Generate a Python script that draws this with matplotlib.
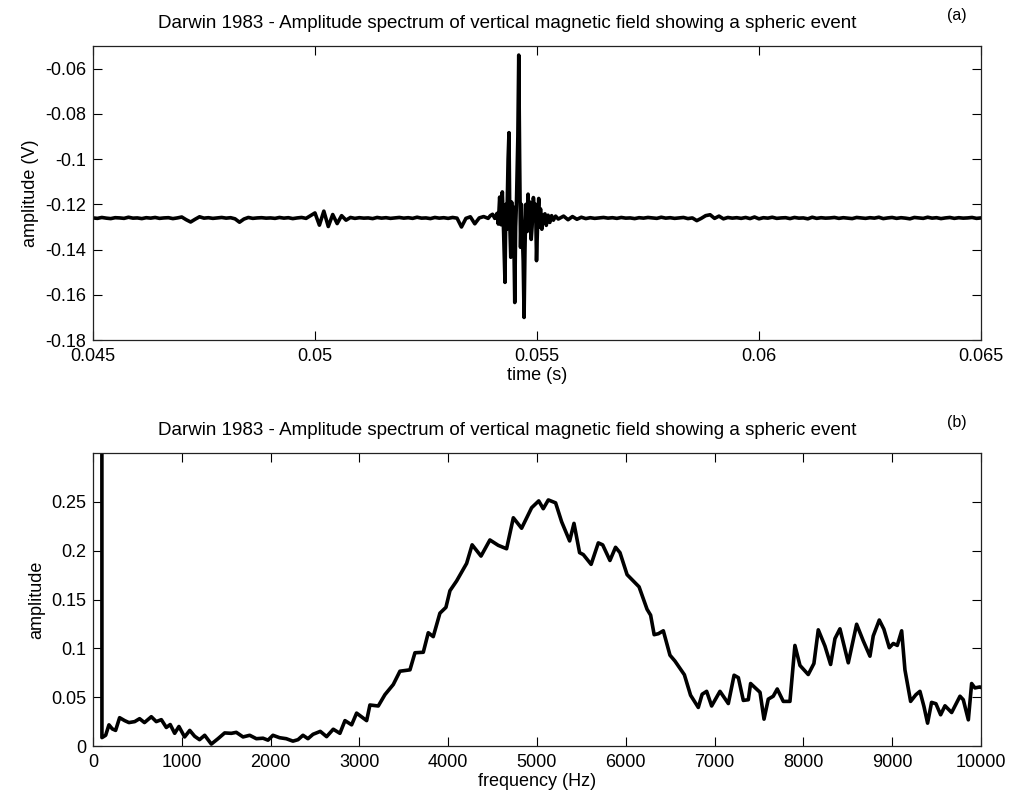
import numpy as np
import matplotlib.pyplot as plt

plt.rcParams['font.family'] = ['Liberation Sans', 'DejaVu Sans']
plt.rcParams['axes.unicode_minus'] = False

TITLE = "Darwin 1983 - Amplitude spectrum of vertical magnetic field showing a spheric event"

# --- time trace (V), quiet part before the spheric, 0.1 ms sampling from 0.045 s
quiet1_t0 = 0.045
quiet1_v = [
    -0.1260, -0.1262, -0.1258, -0.1261, -0.1263, -0.1259, -0.1260, -0.1262, -0.1257, -0.1261,
    -0.1260, -0.1263, -0.1259, -0.1261, -0.1258, -0.1262, -0.1260, -0.1259, -0.1263, -0.1260,
    -0.1256, -0.1268, -0.1278, -0.1266, -0.1255, -0.1261, -0.1259, -0.1262, -0.1260, -0.1258,
    -0.1261, -0.1259, -0.1264, -0.1279, -0.1265, -0.1258, -0.1262, -0.1260, -0.1259, -0.1261,
    -0.1260, -0.1262, -0.1258, -0.1261, -0.1259, -0.1263, -0.1260, -0.1258, -0.1262, -0.1250,
    -0.1238, -0.1292, -0.1230, -0.1298, -0.1245, -0.1285, -0.1250, -0.1270, -0.1258, -0.1262,
    -0.1259, -0.1261, -0.1260, -0.1263, -0.1258, -0.1261, -0.1259, -0.1262, -0.1260, -0.1258,
    -0.1261, -0.1259, -0.1262, -0.1257, -0.1261, -0.1260, -0.1263, -0.1258, -0.1261, -0.1259,
    -0.1262, -0.1258, -0.1261, -0.1300, -0.1262, -0.1255, -0.1286, -0.1260, -0.1254, -0.1262,
]

# the spheric itself
burst_t = [0.05395, 0.05400, 0.05405, 0.05410, 0.05413, 0.05416, 0.05419, 0.05422,
           0.05425, 0.05428, 0.05430, 0.05432, 0.05435, 0.05437, 0.05439, 0.05441,
           0.05443, 0.05445, 0.05447, 0.05450, 0.05452, 0.05454, 0.05457, 0.05459,
           0.05461, 0.05463, 0.05465, 0.05467, 0.05469, 0.05471, 0.05473, 0.05475,
           0.05478, 0.05480, 0.05482, 0.05484, 0.05487, 0.05489, 0.05492, 0.05495,
           0.05497, 0.05499, 0.05502, 0.05504, 0.05506, 0.05508, 0.05511, 0.05514,
           0.05518, 0.05521, 0.05525, 0.05529, 0.05533, 0.05537, 0.05542, 0.05548]
burst_v = [-0.1250, -0.1244, -0.1262, -0.1240, -0.1287, -0.1168, -0.1290, -0.1145,
           -0.1330, -0.1545, -0.1200, -0.1310, -0.1000, -0.0883, -0.1300, -0.1434,
           -0.1190, -0.1330, -0.1212, -0.1634, -0.1300, -0.1180, -0.0900, -0.0540,
           -0.1000, -0.1390, -0.1200, -0.1330, -0.1450, -0.1700, -0.1400, -0.1200,
           -0.1320, -0.1155, -0.1300, -0.1190, -0.1355, -0.1300, -0.1170, -0.1250,
           -0.1200, -0.1449, -0.1250, -0.1174, -0.1300, -0.1220, -0.1310, -0.1250,
           -0.1242, -0.1293, -0.1248, -0.1280, -0.1250, -0.1270, -0.1252, -0.1265]

# quiet part after the spheric, 0.1 ms sampling from 0.0556 s
quiet2_t0 = 0.0556
quiet2_v = [
    -0.1252, -0.1268, -0.1254, -0.1266, -0.1257, -0.1263, -0.1259, -0.1262, -0.1260, -0.1258,
    -0.1261, -0.1259, -0.1262, -0.1258, -0.1261, -0.1260, -0.1263, -0.1259, -0.1261, -0.1258,
    -0.1260, -0.1262, -0.1257, -0.1261, -0.1259, -0.1262, -0.1260, -0.1258, -0.1263, -0.1260,
    -0.1272, -0.1262, -0.1250, -0.1246, -0.1262, -0.1252, -0.1264, -0.1258, -0.1261, -0.1259,
    -0.1262, -0.1258, -0.1263, -0.1256, -0.1264, -0.1259, -0.1261, -0.1257, -0.1262, -0.1260,
    -0.1259, -0.1263, -0.1258, -0.1261, -0.1260, -0.1264, -0.1257, -0.1262, -0.1259, -0.1261,
    -0.1260, -0.1258, -0.1262, -0.1259, -0.1261, -0.1263, -0.1258, -0.1260, -0.1262, -0.1259,
    -0.1261, -0.1257, -0.1263, -0.1260, -0.1258, -0.1262, -0.1259, -0.1261, -0.1264, -0.1258,
    -0.1260, -0.1262, -0.1257, -0.1261, -0.1259, -0.1263, -0.1260, -0.1258, -0.1262, -0.1259,
    -0.1261, -0.1260, -0.1258, -0.1262, -0.1260,
]
dt = 0.0001

# --- amplitude spectrum
freq = [100, 101, 143, 180, 218, 255, 300, 357, 405, 470, 525, 580, 657, 713, 770,
        826, 870, 920, 968, 1032, 1090, 1145, 1200, 1258, 1333, 1408, 1483, 1558,
        1614, 1690, 1765, 1840, 1915, 1971, 2027, 2102, 2177, 2252, 2309, 2365,
        2421, 2478, 2560, 2631, 2706, 2781, 2838, 2913, 2969, 3082, 3119, 3213,
        3288, 3382, 3457, 3570, 3626, 3720, 3776, 3832, 3907, 3975, 4020, 4095,
        4208, 4270, 4370, 4470, 4564, 4658, 4734, 4827, 4940, 5020, 5071, 5128,
        5210, 5278, 5368, 5417, 5480, 5522, 5610, 5691, 5740, 5822, 5885, 5935,
        6015, 6150, 6240, 6280, 6320, 6367, 6423, 6498, 6554, 6660, 6730, 6817,
        6860, 6911, 6967, 7061, 7155, 7220, 7268, 7324, 7380, 7406, 7512, 7557,
        7605, 7661, 7706, 7774, 7849, 7905, 7962, 8055, 8119, 8168, 8243, 8307,
        8356, 8412, 8506, 8600, 8675, 8750, 8787, 8855, 8907, 8968, 9013, 9058,
        9107, 9144, 9208, 9268, 9313, 9358, 9399, 9444, 9493, 9546, 9595, 9670,
        9764, 9801, 9858, 9895, 9932, 9988, 10000]
amp = [0.62, 0.0086, 0.011, 0.0217, 0.0175, 0.016, 0.029, 0.026, 0.024, 0.025, 0.028,
       0.024, 0.030, 0.025, 0.027, 0.019, 0.022, 0.013, 0.020, 0.0093, 0.016, 0.010,
       0.0065, 0.011, 0.002, 0.0075, 0.0134, 0.013, 0.014, 0.0093, 0.011, 0.0075,
       0.008, 0.006, 0.011, 0.0085, 0.0075, 0.005, 0.0065, 0.011, 0.0075, 0.012,
       0.015, 0.0096, 0.0172, 0.013, 0.026, 0.0217, 0.0337, 0.026, 0.042, 0.041,
       0.0526, 0.063, 0.0766, 0.078, 0.0955, 0.096, 0.116, 0.112, 0.136, 0.142,
       0.159, 0.169, 0.187, 0.206, 0.1945, 0.211, 0.2055, 0.202, 0.2337, 0.223,
       0.244, 0.251, 0.243, 0.252, 0.249, 0.2296, 0.210, 0.228, 0.198, 0.196,
       0.186, 0.208, 0.206, 0.190, 0.2035, 0.198, 0.1755, 0.163, 0.140, 0.134,
       0.114, 0.115, 0.118, 0.093, 0.087, 0.073, 0.052, 0.0395, 0.053, 0.056,
       0.041, 0.056, 0.0435, 0.0725, 0.070, 0.0467, 0.0474, 0.064, 0.055, 0.0275,
       0.048, 0.051, 0.0584, 0.0457, 0.0457, 0.103, 0.0825, 0.0732, 0.0845, 0.119,
       0.1024, 0.0835, 0.110, 0.120, 0.0852, 0.1247, 0.1076, 0.092, 0.1127, 0.129,
       0.1196, 0.1007, 0.105, 0.103, 0.118, 0.078, 0.0457, 0.0526, 0.056, 0.0405,
       0.0234, 0.0447, 0.0433, 0.032, 0.0412, 0.0343, 0.051, 0.0474, 0.0268, 0.064,
       0.0595, 0.0605, 0.060]

t1 = quiet1_t0 + dt * np.arange(len(quiet1_v))
t2 = quiet2_t0 + dt * np.arange(len(quiet2_v))
t = np.concatenate([t1, burst_t, t2])
v = np.concatenate([quiet1_v, burst_v, quiet2_v])

fig = plt.figure(figsize=(10.16, 8.02), dpi=100)
ax1 = fig.add_axes([0.0915, 0.576, 0.874, 0.3666])
ax2 = fig.add_axes([0.0915, 0.0698, 0.874, 0.3653])

fs = 13.5
tfs = 13
for ax in (ax1, ax2):
    ax.tick_params(direction='in', length=6.5, width=0.8, top=True, right=True,
                   labelsize=tfs)
    ax.tick_params(axis='x', pad=6)
    ax.tick_params(axis='y', pad=5)
    for s in ax.spines.values():
        s.set_linewidth(0.9)
        s.set_color('#222222')

ax1.plot(t, v, color='black', lw=2.6)
ax1.set_xlim(0.045, 0.065)
ax1.set_ylim(-0.18, -0.05)
ax1.set_xticks([0.045, 0.05, 0.055, 0.06, 0.065])
ax1.set_xticklabels(['0.045', '0.05', '0.055', '0.06', '0.065'])
ax1.set_yticks([-0.18, -0.16, -0.14, -0.12, -0.1, -0.08, -0.06])
ax1.set_yticklabels(['-0.18', '-0.16', '-0.14', '-0.12', '-0.1', '-0.08', '-0.06'])
ax1.set_xlabel('time (s)', fontsize=tfs, labelpad=1)
ax1.set_ylabel('amplitude (V)', fontsize=tfs, labelpad=4)

ax2.plot(freq, amp, color='black', lw=2.6)
ax2.set_xlim(0, 10000)
ax2.set_ylim(0, 0.3)
ax2.set_xticks(range(0, 10001, 1000))
ax2.set_yticks([0, 0.05, 0.1, 0.15, 0.2, 0.25])
ax2.set_yticklabels(['0', '0.05', '0.1', '0.15', '0.2', '0.25'])
ax2.set_xlabel('frequency (Hz)', fontsize=tfs, labelpad=1)
ax2.set_ylabel('amplitude', fontsize=tfs, labelpad=4)

for ax, tag in ((ax1, '(a)'), (ax2, '(b)')):
    ax.text(0.466, 1.078, TITLE, transform=ax.transAxes, ha='center', va='center',
            fontsize=fs)
    ax.text(0.973, 1.105, tag, transform=ax.transAxes, ha='center', va='center',
            fontsize=11.5)

fig.savefig('out.png', dpi=100, facecolor='white')
